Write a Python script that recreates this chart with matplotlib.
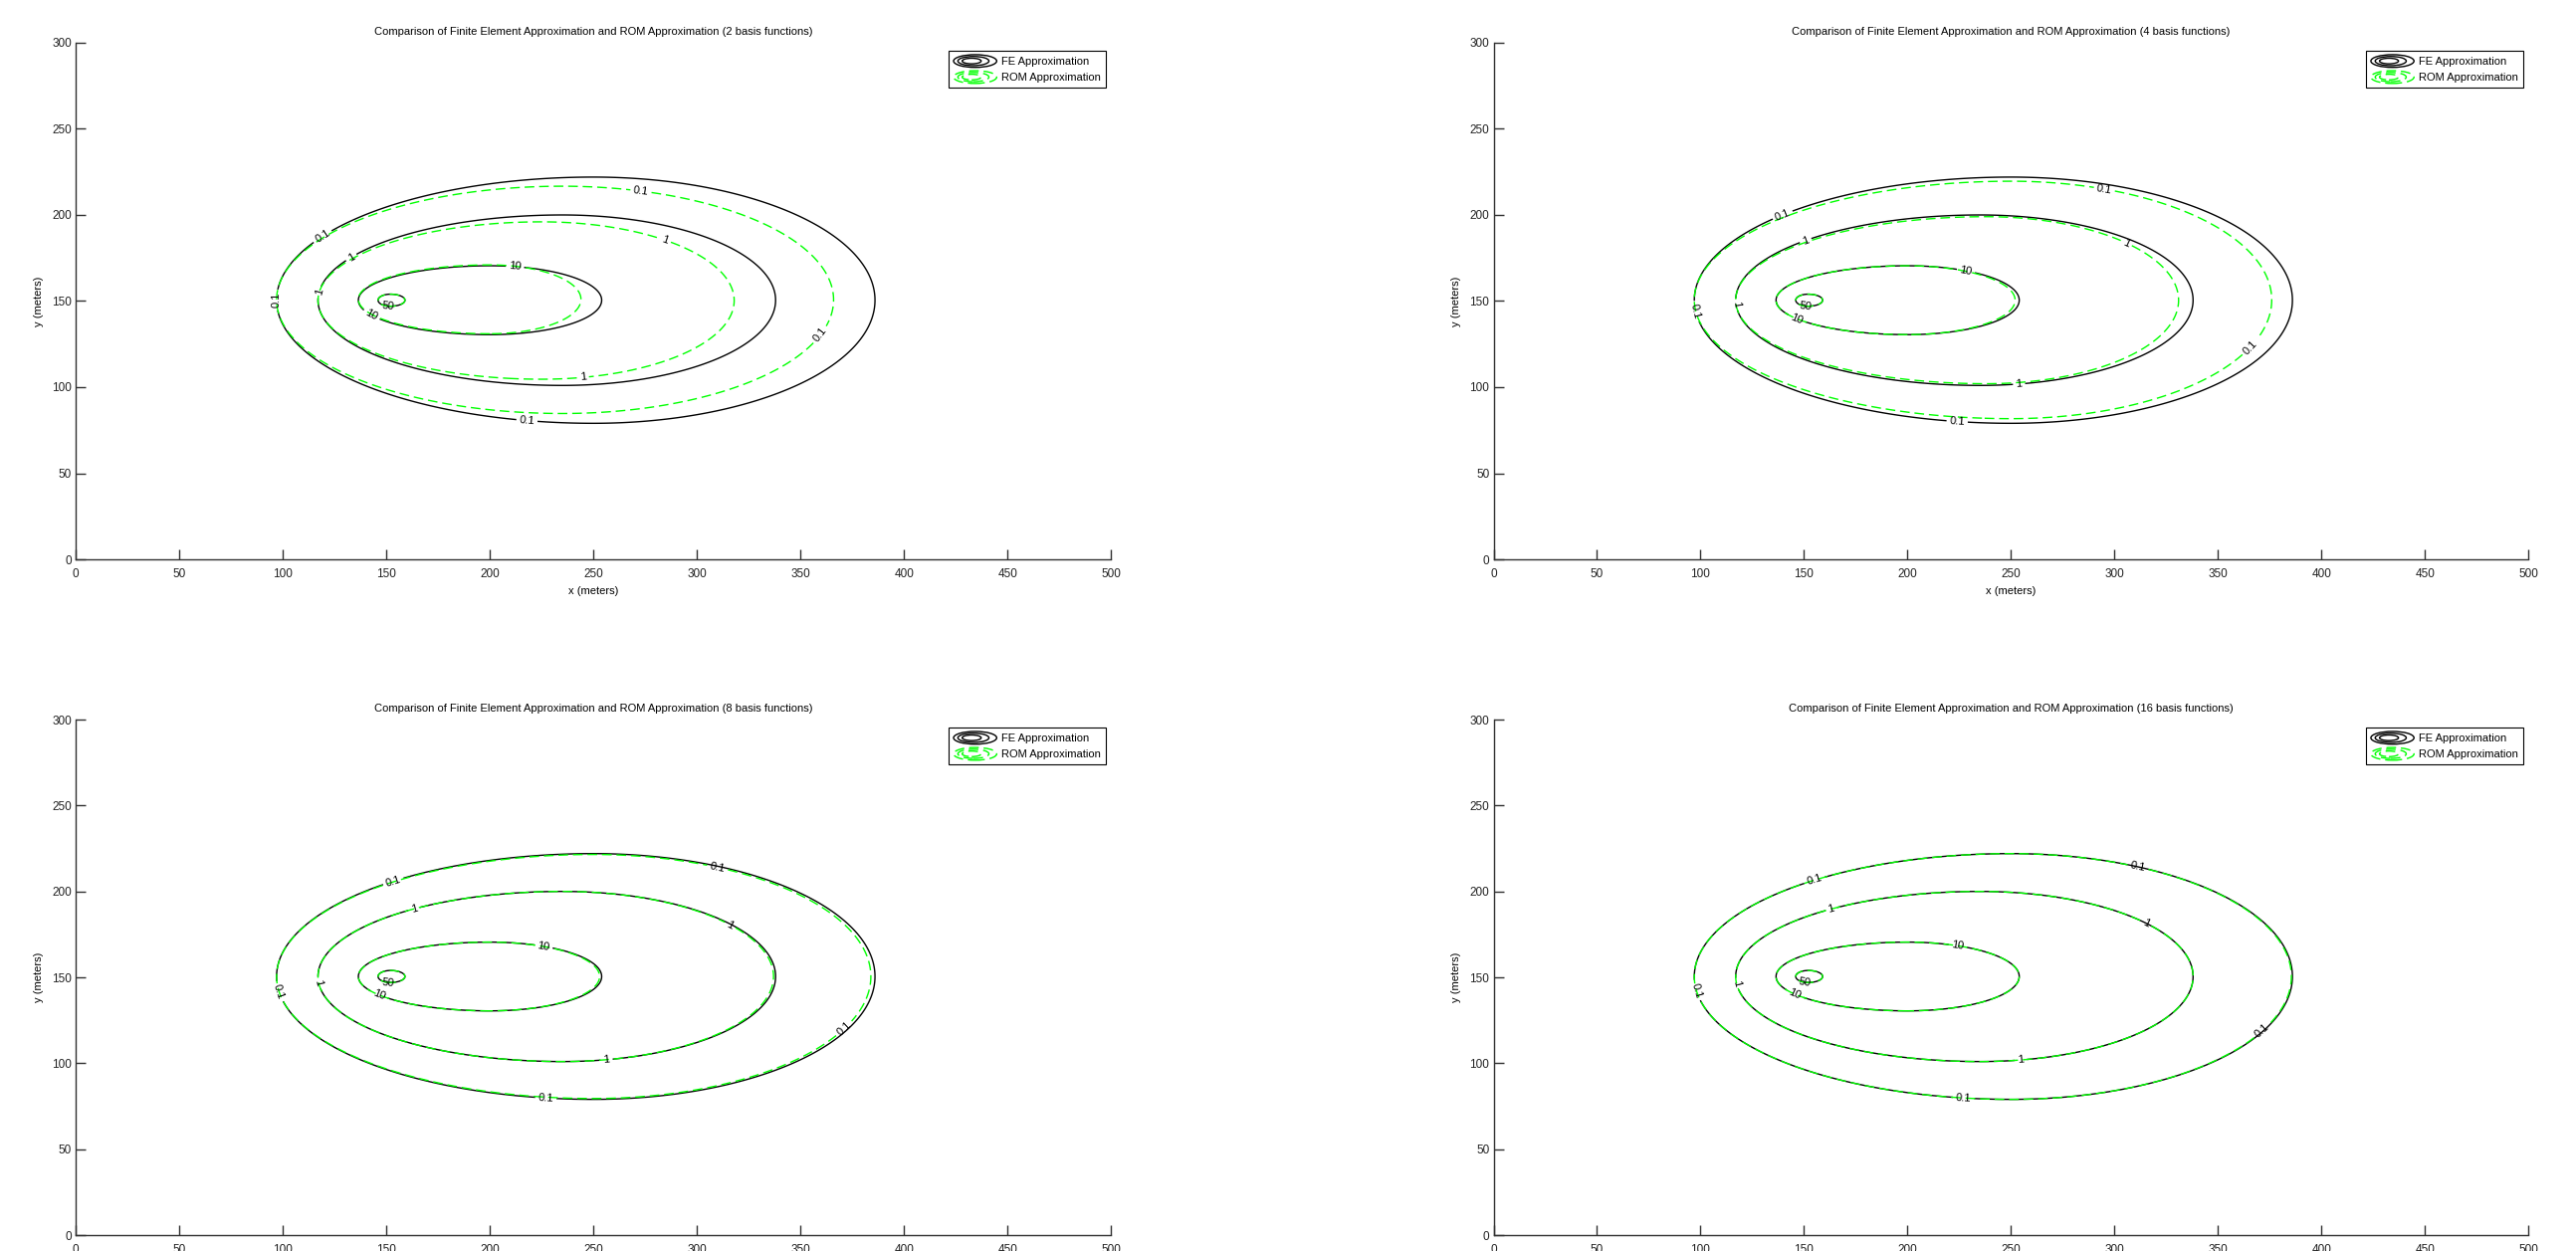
import matplotlib

matplotlib.use("Agg")
import matplotlib.pyplot as plt
import numpy as np
from matplotlib.legend_handler import HandlerBase
from matplotlib.lines import Line2D
from matplotlib.patches import Ellipse

plt.rcParams["font.family"] = ["Liberation Sans", "DejaVu Sans"]
plt.rcParams["lines.dashed_pattern"] = [7, 3.5]

# contour levels of the concentration field
levels = [0.1, 1, 10, 50]
level_text = ["0.1", "1", "10", "50"]

# finite element contours: extents in meters, one entry per level
fe_left = [97, 117, 136.5, 146]
fe_right = [386, 338, 254, 159]
fe_bottom = [79, 101, 130.5, 147]
fe_top = [222, 200, 170.5, 154]
fe_peak = [250, 235, 200, 152]

# ROM contours, one row per panel (left side follows the FE contour)
basis_counts = [2, 4, 8, 16]
rom_right = [
    [366, 318, 244, 159],
    [376, 331, 252, 159],
    [384, 337, 253, 159],
    [385.5, 338, 254, 159],
]
rom_bottom = [
    [84.7, 104.6, 131, 147],
    [81.7, 102, 130.5, 147],
    [79.5, 101, 130.5, 147],
    [79, 101, 130.5, 147],
]
rom_top = [
    [216.7, 196, 171, 154],
    [219.6, 199, 170.5, 154],
    [221.5, 200, 170.5, 154],
    [222, 200, 170.5, 154],
]
rom_peak = [
    [235, 225, 200, 152],
    [250, 238, 200, 152],
    [250, 235, 200, 152],
    [250, 235, 200, 152],
]

# where the inline contour labels sit: (level index, x, y)
fe_label_spots = [
    [(0, 97.7, 150.6), (0, 120, 186), (0, 218, 82), (1, 134, 173.5), (1, 118, 155),
     (2, 212, 168), (2, 142, 140), (3, 151, 146)],
    [(0, 141, 196), (0, 97.7, 144), (0, 224, 80), (1, 152, 181), (1, 117, 148),
     (1, 254, 100.4), (2, 228, 166), (2, 146, 138.5), (3, 150.6, 146)],
    [(0, 154.5, 201.5), (0, 99, 142), (0, 227, 79), (1, 164, 187), (1, 118, 147),
     (1, 256.6, 99), (2, 225.7, 166), (2, 145.7, 137.5), (3, 151, 145)],
    [(0, 156, 203), (0, 97, 142), (0, 227, 78), (1, 164, 186), (1, 117, 146),
     (1, 255, 99), (2, 224, 166), (2, 145, 138.5), (3, 150, 145)],
]
rom_label_spots = [
    [(0, 273, 214), (0, 360, 130), (1, 284, 183), (1, 245, 104.6)],
    [(0, 295, 214), (0, 366.6, 122), (1, 304.7, 181)],
    [(0, 309.8, 213), (0, 372, 119), (1, 315, 178)],
    [(0, 311, 212), (0, 372, 118), (1, 314, 178.6)],
]

FE_COLOR = "black"
ROM_COLOR = "#00ff00"
AX_COLOR = "#303030"

xg = np.linspace(0, 500, 1001)
yg = np.linspace(0, 300, 601)
X, Y = np.meshgrid(xg, yg)


def egg(left, right, bottom, top, peak):
    # two half ellipses joined at the peak: level set 1 is the contour
    a = np.where(X < peak, peak - left, right - peak)
    b = (top - bottom) / 2.0
    yc = (top + bottom) / 2.0
    return ((X - peak) / a) ** 2 + ((Y - yc) / b) ** 2


def draw_set(ax, extents, spots, color, ls):
    for k in range(len(levels)):
        field = egg(*[e[k] for e in extents])
        cs = ax.contour(X, Y, field, levels=[1.0], colors=[color],
                        linewidths=1.0, linestyles=ls)
        pts = [(x, y) for (lev, x, y) in spots if lev == k]
        if pts:
            ax.clabel(cs, [1.0], manual=pts, inline=(k < 3), inline_spacing=3,
                      fmt={1.0: level_text[k]}, fontsize=8, colors="black")


class ContourIcon(HandlerBase):
    def create_artists(self, legend, orig_handle, xdescent, ydescent,
                       width, height, fontsize, trans):
        arts = []
        for f, off in ((1.0, 0.0), (0.72, -0.08), (0.44, -0.16)):
            e = Ellipse((width * (0.5 + off * 0.5) - xdescent, height / 2 - ydescent),
                        width * f, height * 1.2 * f, fill=False,
                        edgecolor=orig_handle.get_color(),
                        linestyle=orig_handle.get_linestyle(),
                        lw=orig_handle.get_linewidth(), transform=trans)
            arts.append(e)
        return arts


fig = plt.figure(figsize=(25.88, 12.57), dpi=100)
positions = [
    [0.0294, 0.5529, 0.4019, 0.4129],
    [0.5798, 0.5529, 0.4017, 0.4129],
    [0.0294, 0.0127, 0.4019, 0.4121],
    [0.5798, 0.0127, 0.4017, 0.4121],
]

for i, pos in enumerate(positions):
    ax = fig.add_axes(pos)
    draw_set(ax, (fe_left, fe_right, fe_bottom, fe_top, fe_peak),
             fe_label_spots[i], FE_COLOR, "solid")
    draw_set(ax, (fe_left, rom_right[i], rom_bottom[i], rom_top[i], rom_peak[i]),
             rom_label_spots[i], ROM_COLOR, "dashed")

    ax.set_xlim(0, 500)
    ax.set_ylim(0, 300)
    ax.set_xticks(np.arange(0, 501, 50))
    ax.set_yticks(np.arange(0, 301, 50))
    for side in ("top", "right"):
        ax.spines[side].set_visible(False)
    for side in ("left", "bottom"):
        ax.spines[side].set_color(AX_COLOR)
        ax.spines[side].set_linewidth(1.0)
    ax.tick_params(axis="both", direction="in", length=7.5, width=1.0,
                   color=AX_COLOR, labelcolor="#222222", labelsize=8.5)
    ax.tick_params(axis="x", pad=6.5)
    ax.tick_params(axis="y", pad=3)
    if i < 2:
        # the bottom row's x label falls below the figure edge
        ax.set_xlabel("x (meters)", fontsize=8, labelpad=4)
    ax.set_ylabel("y (meters)", fontsize=8, labelpad=6)
    ax.set_title("Comparison of Finite Element Approximation and ROM Approximation "
                 f"({basis_counts[i]} basis functions)", fontsize=8, pad=6)

    handles = [Line2D([], [], color=FE_COLOR, lw=1.0),
               Line2D([], [], color=ROM_COLOR, lw=1.0, ls="--")]
    leg = ax.legend(handles, ["FE Approximation", "ROM Approximation"],
                    loc="upper right", bbox_to_anchor=(0.9952, 0.9846),
                    borderaxespad=0, fontsize=8, handlelength=3.9,
                    handleheight=1.1, handletextpad=0.45, labelspacing=0.45,
                    borderpad=0.45, fancybox=False, framealpha=1,
                    handler_map={Line2D: ContourIcon()})
    leg.get_frame().set_edgecolor("black")
    leg.get_frame().set_linewidth(0.8)

fig.savefig("out.png", dpi=100)
